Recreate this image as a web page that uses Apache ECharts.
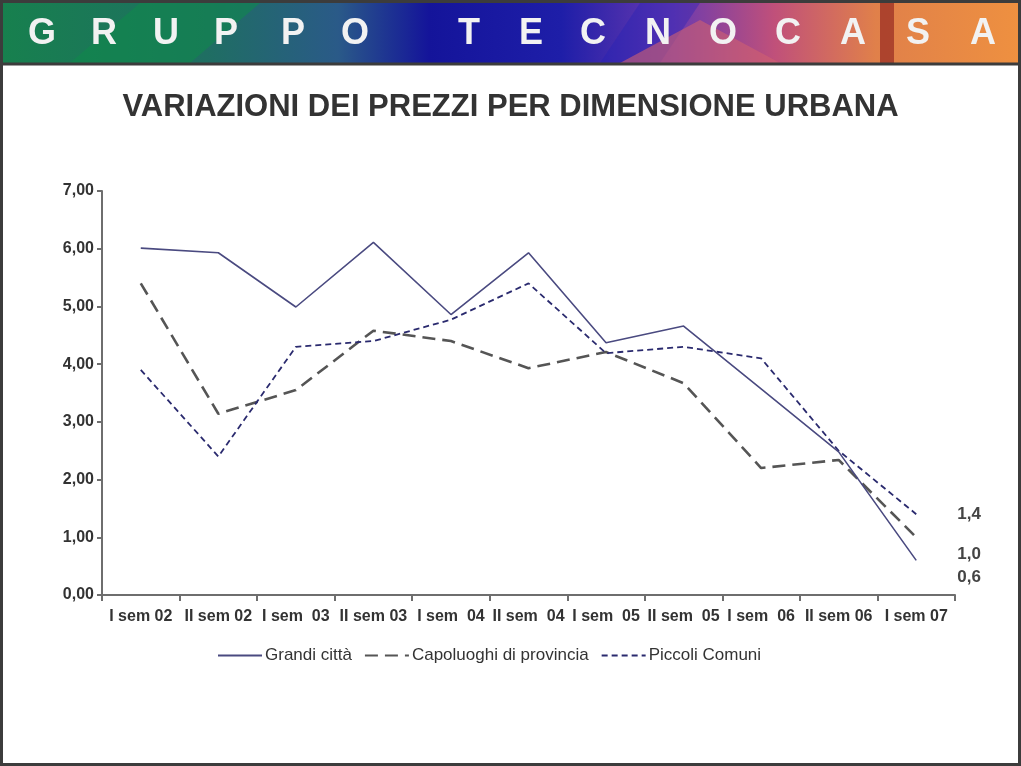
<!DOCTYPE html>
<html>
<head>
<meta charset="utf-8">
<script src="https://cdn.jsdelivr.net/npm/echarts@6/dist/echarts.min.js"></script>
<style>
  html, body { margin: 0; padding: 0; background: #fff; }
  #chart { width: 1021px; height: 766px; }
</style>
</head>
<body>
<div id="chart"></div>
<script>
// periods (semesters)
var categories = ['I sem 02', 'II sem 02', 'I sem  03', 'II sem 03', 'I sem  04', 'II sem  04',
  'I sem  05', 'II sem  05', 'I sem  06', 'II sem 06', 'I sem 07']
var grandiCitta = [6.01, 5.93, 4.99, 6.11, 4.86, 5.93, 4.37, 4.66, 3.57, 2.48, 0.6]
var capoluoghi = [5.40, 3.14, 3.55, 4.58, 4.40, 3.93, 4.21, 3.67, 2.20, 2.34, 1.0]
var piccoliComuni = [3.90, 2.40, 4.30, 4.40, 4.77, 5.40, 4.19, 4.30, 4.10, 2.50, 1.4]
var yTicks = [0, 1, 2, 3, 4, 5, 6, 7]

var bannerLetters = ['G', 'R', 'U', 'P', 'P', 'O', 'T', 'E', 'C', 'N', 'O', 'C', 'A', 'S', 'A']
var letterX = [42, 104, 166, 226, 293, 355, 469, 531, 593, 658, 723, 788, 853, 918, 983]

var fmtEnd = function (p) {
  return p.value.toFixed(1).replace('.', ',')
}

var chart = echarts.init(document.getElementById('chart'))

var graphics = [
  // outer frame
  { type: 'rect', shape: { x: 1.5, y: 1.5, width: 1018, height: 763 },
    style: { fill: 'none', stroke: '#3c3c3c', lineWidth: 3 }, z: 100 },
  // banner
  { type: 'rect', shape: { x: 3, y: 3, width: 1015, height: 60 },
    style: {
      fill: new echarts.graphic.LinearGradient(0, 0, 1, 0, [
        { offset: 0, color: '#17804e' },
        { offset: 0.2, color: '#1f6e62' },
        { offset: 0.33, color: '#2a5a88' },
        { offset: 0.42, color: '#14149a' },
        { offset: 0.55, color: '#1e1ea8' },
        { offset: 0.66, color: '#6a3ab0' },
        { offset: 0.76, color: '#c0507a' },
        { offset: 0.86, color: '#e0804a' },
        { offset: 1, color: '#ee9040' }
      ])
    }, z: 1 },
  { type: 'polygon', shape: { points: [[70, 63], [140, 3], [260, 3], [190, 63]] },
    style: { fill: '#0e8a4a', opacity: 0.55 }, z: 2 },
  { type: 'polygon', shape: { points: [[600, 63], [640, 3], [700, 3], [660, 63]] },
    style: { fill: '#2020b8', opacity: 0.35 }, z: 2 },
  { type: 'polygon', shape: { points: [[620, 63], [700, 20], [780, 63]] },
    style: { fill: '#d06070', opacity: 0.6 }, z: 2 },
  { type: 'rect', shape: { x: 880, y: 3, width: 14, height: 60 },
    style: { fill: '#8a1a1a', opacity: 0.6 }, z: 2 },
  { type: 'line', shape: { x1: 3, y1: 64, x2: 1018, y2: 64 },
    style: { stroke: '#3c3c3c', lineWidth: 3 }, z: 3 }
]
bannerLetters.forEach(function (ch, i) {
  graphics.push({
    type: 'text', x: letterX[i], y: 34, z: 5,
    style: {
      text: ch, align: 'center', verticalAlign: 'middle',
      font: 'bold 36px "Liberation Sans Narrow", "Liberation Sans", Arial, sans-serif',
      fill: '#f2f2f2', shadowColor: 'rgba(0,0,0,0.75)', shadowBlur: 2,
      shadowOffsetX: 2, shadowOffsetY: 2
    }
  })
})

chart.setOption({
  animation: false,
  backgroundColor: '#fff',
  textStyle: { fontFamily: '"Liberation Sans", Arial, sans-serif' },
  title: {
    text: 'VARIAZIONI DEI PREZZI PER DIMENSIONE URBANA',
    left: 'center',
    top: 87,
    textStyle: { fontSize: 31, fontWeight: 'bold', color: '#333' }
  },
  legend: {
    bottom: 97,
    left: 212,
    itemWidth: 44,
    itemHeight: 10,
    itemGap: 12,
    itemStyle: { opacity: 0 },
    textStyle: { fontSize: 17, color: '#333', padding: [0, 0, 0, -2] },
    data: ['Grandi città', 'Capoluoghi di provincia', 'Piccoli Comuni']
  },
  grid: { left: 102, right: 66, top: 191, bottom: 171 },
  xAxis: {
    type: 'category',
    data: categories,
    boundaryGap: true,
    axisLine: { lineStyle: { color: '#6e6e6e', width: 2 } },
    axisTick: { show: true, length: 6, lineStyle: { color: '#6e6e6e', width: 2 } },
    axisLabel: { interval: 0, margin: 14, fontSize: 16, fontWeight: 'bold', color: '#333' }
  },
  yAxis: {
    type: 'value',
    min: yTicks[0],
    max: yTicks[yTicks.length - 1],
    interval: 1,
    splitLine: { show: false },
    axisLine: { show: true, lineStyle: { color: '#6e6e6e', width: 2 } },
    axisTick: { show: true, length: 5, lineStyle: { color: '#6e6e6e', width: 2 } },
    axisLabel: {
      margin: 8, fontSize: 16, fontWeight: 'bold', color: '#333',
      formatter: function (v) { return v.toFixed(2).replace('.', ',') }
    }
  },
  series: [
    {
      name: 'Grandi città',
      type: 'line',
      data: grandiCitta,
      symbol: 'none',
      lineStyle: { color: '#4a4a80', width: 1.6, type: 'solid' },
      itemStyle: { color: '#4a4a80' },
      endLabel: { show: true, formatter: fmtEnd, distance: 41, offset: [0, 17],
        fontSize: 17, fontWeight: 'bold', color: '#444' },
      z: 3
    },
    {
      name: 'Capoluoghi di provincia',
      type: 'line',
      data: capoluoghi,
      symbol: 'none',
      lineStyle: { color: '#555', width: 2.6, type: [13, 7] },
      itemStyle: { color: '#555' },
      endLabel: { show: true, formatter: fmtEnd, distance: 41, offset: [0, 17],
        fontSize: 17, fontWeight: 'bold', color: '#444' },
      z: 2
    },
    {
      name: 'Piccoli Comuni',
      type: 'line',
      data: piccoliComuni,
      symbol: 'none',
      lineStyle: { color: '#2a2a6e', width: 1.8, type: [6, 4] },
      itemStyle: { color: '#2a2a6e' },
      endLabel: { show: true, formatter: fmtEnd, distance: 41, offset: [0, 0],
        fontSize: 17, fontWeight: 'bold', color: '#444' },
      z: 2
    }
  ],
  graphic: graphics
})
</script>
</body>
</html>
